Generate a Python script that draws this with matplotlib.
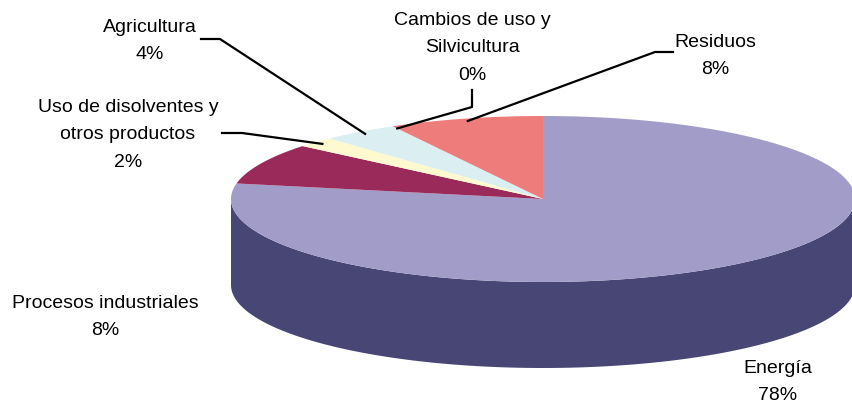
import numpy as np
import matplotlib.pyplot as plt
from matplotlib.patches import Polygon

# data, in drawing order (clockwise from 12 o'clock)
labels = ["Energía", "Procesos industriales", "Uso de disolventes y\notros productos",
          "Agricultura", "Cambios de uso y\nSilvicultura", "Residuos"]
values = [78, 8, 2, 4, 0, 8]
top_colors = ["#A29DC8", "#992A59", "#FFF9CF", "#DBEEF2", "#B8D8B0", "#EE7C7B"]
side_colors = ["#484675", "#5E1838", "#BDB98F", "#9DB0B5", "#7E9878", "#A85654"]

# label layout: text centre, leader path (None = no leader)
label_pos = [(778, 382), (105, 317), (128, 135), (150, 41), (472, 48), (715, 56)]
leader_path = [None, None,
               [(222, 134), (242, 134)],
               [(201, 40), (220, 40)],
               [(472, 91), (472, 108)],
               [(673, 53), (655, 53)]]

plt.rcParams['font.family'] = ['Liberation Sans', 'DejaVu Sans']

cx, cy, rx, ry, depth = 543, 200, 312, 83, 86


def pt(theta, f=1.0, dy=0):
    t = np.radians(theta)
    return cx + f * rx * np.sin(t), cy - f * ry * np.cos(t) + dy


fig = plt.figure(figsize=(8.52, 4.06), dpi=100)
ax = fig.add_axes([0, 0, 1, 1])
ax.set_xlim(0, 852)
ax.set_ylim(406, 0)
ax.axis('off')

total = sum(values)
bounds = np.concatenate([[0], np.cumsum(values) / total * 360])

# side walls (front half only)
for i in range(len(values)):
    a, b = max(bounds[i], 90), min(bounds[i + 1], 270)
    if b <= a:
        continue
    th = np.linspace(a, b, 200)
    top = np.array([pt(t) for t in th])
    bot = np.array([pt(t, dy=depth) for t in th])[::-1]
    ax.add_patch(Polygon(np.vstack([top, bot]), closed=True,
                         facecolor=side_colors[i], edgecolor='none'))

# top face
for i in range(len(values)):
    a, b = bounds[i], bounds[i + 1]
    if b <= a:
        continue
    th = np.linspace(a, b, 300)
    arc = np.array([pt(t) for t in th])
    poly = np.vstack([[cx, cy], arc])
    ax.add_patch(Polygon(poly, closed=True, facecolor=top_colors[i],
                         edgecolor='none'))

# labels and leader lines
for i, lab in enumerate(labels):
    x, y = label_pos[i]
    ax.text(x, y, f"{lab}\n{values[i]}%", ha='center', va='center',
            multialignment='center', fontsize=14, linespacing=1.78, color='black')
    if leader_path[i] is not None:
        mid = (bounds[i] + bounds[i + 1]) / 2
        end = pt(mid, f=0.97)
        path = np.array(leader_path[i] + [end])
        ax.plot(path[:, 0], path[:, 1], color='black', lw=1.6)

fig.savefig("out.png", dpi=100)
